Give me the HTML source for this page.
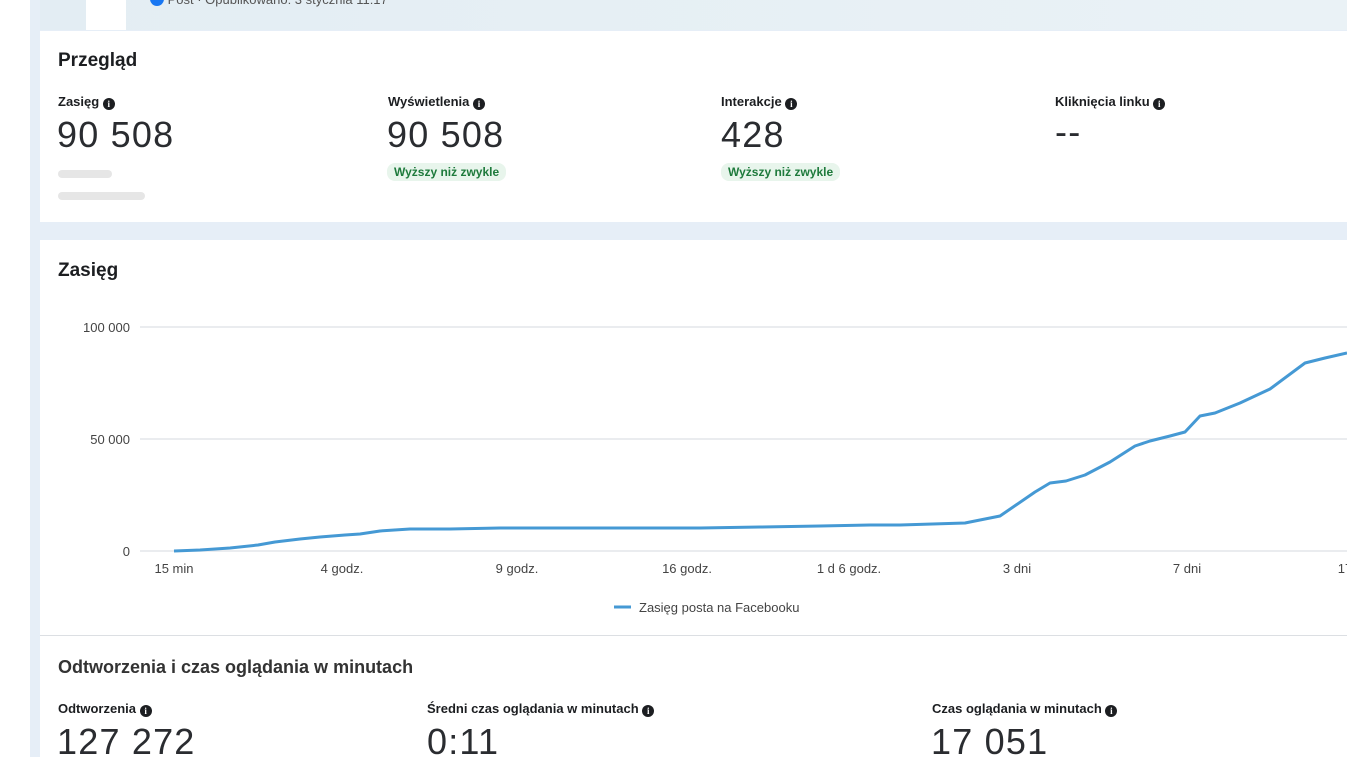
<!DOCTYPE html>
<html><head><meta charset="utf-8"><style>
body{margin:0;width:1347px;height:757px;overflow:hidden;background:#fff;font-family:"Liberation Sans",sans-serif;color:#1c1e21;position:relative}
.abs{position:absolute}
.lbl{font-size:13px;font-weight:bold;color:#1c1e21}
.big{font-size:36px;color:#2a2c30;letter-spacing:1.2px}
.badge{font-size:12px;font-weight:bold;color:#1e7a3c;background:#e8f5ec;border-radius:8px;padding:2px 7px}
.i{display:inline-block;width:12px;height:12px;border-radius:50%;background:#1c1e21;color:#fff;font-size:9px;text-align:center;line-height:12px;vertical-align:-1px;font-family:"Liberation Serif",serif;font-weight:bold}
</style></head><body>
<div class="abs" style="left:30px;top:0;width:1317px;height:757px;background:#e6eef7"></div>
<div class="abs" style="left:40px;top:0;width:1307px;height:30px;background:linear-gradient(90deg,#e3edf3,#eaf2f6)"></div>
<div class="abs" style="left:86px;top:0;width:40px;height:30px;background:#fff"></div>
<div class="abs" style="left:150px;top:-8px;font-size:13px;color:#555"><span style="display:inline-block;width:14px;height:14px;border-radius:50%;background:#1877f2;vertical-align:-2px"></span> Post · Opublikowano: 3 stycznia 11:17</div>
<div class="abs" style="left:40px;top:31px;width:1307px;height:191px;background:#fff"></div>
<div class="abs" style="left:40px;top:240px;width:1307px;height:517px;background:#fff"></div>
<div class="abs" style="left:40px;top:635px;width:1307px;height:1px;background:#dcdfe3"></div>
<div class="abs" style="left:58px;top:50px;font-size:19px;font-weight:bold">Przegląd</div>
<div class="abs lbl" style="left:58px;top:94px">Zasięg <span class="i">i</span></div>
<div class="abs big" style="left:57px;top:114px">90 508</div>
<div class="abs" style="left:58px;top:170px;width:54px;height:8px;border-radius:4px;background:#e6e6e6"></div>
<div class="abs" style="left:58px;top:192px;width:87px;height:8px;border-radius:4px;background:#e6e6e6"></div>
<div class="abs lbl" style="left:388px;top:94px">Wyświetlenia <span class="i">i</span></div>
<div class="abs big" style="left:387px;top:114px">90 508</div>
<div class="abs badge" style="left:387px;top:163px">Wyższy niż zwykle</div>
<div class="abs lbl" style="left:721px;top:94px">Interakcje <span class="i">i</span></div>
<div class="abs big" style="left:721px;top:114px">428</div>
<div class="abs badge" style="left:721px;top:163px">Wyższy niż zwykle</div>
<div class="abs lbl" style="left:1055px;top:94px">Kliknięcia linku <span class="i">i</span></div>
<div class="abs big" style="left:1055px;top:111px">--</div>
<div class="abs" style="left:58px;top:260px;font-size:19px;font-weight:bold">Zasięg</div>
<svg class="abs" style="left:0;top:0" width="1347" height="757">
<g stroke="#e4e6ea" stroke-width="1.5"><line x1="140" y1="327" x2="1347" y2="327"/><line x1="140" y1="439" x2="1347" y2="439"/><line x1="140" y1="551" x2="1347" y2="551"/></g>
<g font-family="Liberation Sans,sans-serif" font-size="13" fill="#444" text-anchor="end"><text x="130" y="332">100 000</text><text x="130" y="444">50 000</text><text x="130" y="556">0</text></g>
<g font-family="Liberation Sans,sans-serif" font-size="13" fill="#444" text-anchor="middle"><text x="174" y="573">15 min</text><text x="342" y="573">4 godz.</text><text x="517" y="573">9 godz.</text><text x="687" y="573">16 godz.</text><text x="849" y="573">1 d 6 godz.</text><text x="1017" y="573">3 dni</text><text x="1187" y="573">7 dni</text><text x="1345" y="573">17</text></g>
<polyline fill="none" stroke="#4599d4" stroke-width="3" stroke-linejoin="round" points="174,551 200,550 230,548 258,545 275,542 300,539 320,537 345,535 360,534 380,531 410,529 450,529 500,528 600,528 700,528 760,527 820,526 870,525 900,525 965,523 1000,516 1035,492 1050,483 1066,481 1085,475 1110,462 1135,446 1150,441 1170,436 1185,432 1200,416 1215,413 1240,403 1270,389 1305,363 1325,358 1347,353"/>
<line x1="614" y1="607" x2="631" y2="607" stroke="#4599d4" stroke-width="3"/>
<text x="639" y="612" font-family="Liberation Sans,sans-serif" font-size="13" fill="#444">Zasięg posta na Facebooku</text>
</svg>
<div class="abs" style="left:58px;top:657px;font-size:18px;font-weight:bold;color:#333">Odtworzenia i czas oglądania w minutach</div>
<div class="abs lbl" style="left:58px;top:701px">Odtworzenia <span class="i">i</span></div>
<div class="abs big" style="left:57px;top:721px">127 272</div>
<div class="abs lbl" style="left:427px;top:701px">Średni czas oglądania w minutach <span class="i">i</span></div>
<div class="abs big" style="left:427px;top:721px">0:11</div>
<div class="abs lbl" style="left:932px;top:701px">Czas oglądania w minutach <span class="i">i</span></div>
<div class="abs big" style="left:931px;top:721px">17 051</div>
</body></html>
